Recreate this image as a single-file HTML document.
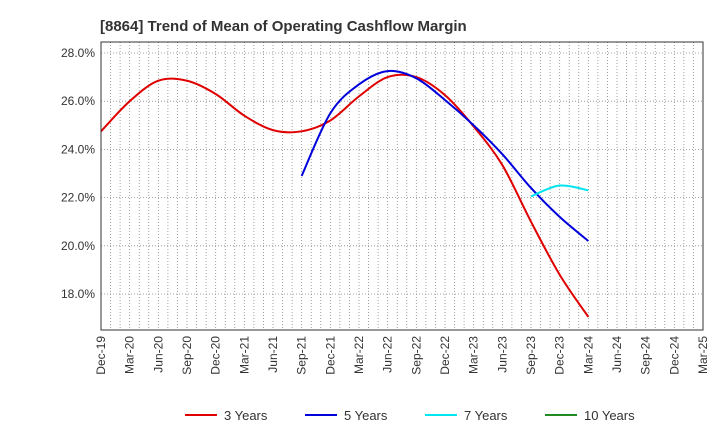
<!DOCTYPE html>
<html><head><meta charset="utf-8"><style>
body{margin:0;background:#fff;font-family:"Liberation Sans",sans-serif}
</style></head><body>
<svg id="c" width="720" height="440" xmlns="http://www.w3.org/2000/svg">
<text x="100" y="31" font-size="15" font-weight="bold" fill="#333">[8864]  Trend of Mean of Operating Cashflow Margin</text>
<g id="grid"></g><g id="series"></g><g id="axes"></g><g id="legend"></g>
</svg>
<script>
const xLabels=["Dec-19","Mar-20","Jun-20","Sep-20","Dec-20","Mar-21","Jun-21","Sep-21","Dec-21","Mar-22","Jun-22","Sep-22","Dec-22","Mar-23","Jun-23","Sep-23","Dec-23","Mar-24","Jun-24","Sep-24","Dec-24","Mar-25"];
const yTicks=[18,20,22,24,26,28];
const red=[24.75,26.0,26.85,26.85,26.3,25.4,24.8,24.75,25.2,26.2,27.0,27.0,26.25,24.95,23.35,21.0,18.8,17.05];
const blueStart=7;
const blue=[22.9,25.5,26.7,27.25,26.95,26.05,25.0,23.8,22.4,21.2,20.2];
const cyanStart=15;
const cyan=[22.05,22.5,22.3];
const green=[];
const L=101,R=703,T=42,B=330;
const NS="http://www.w3.org/2000/svg";
const qx=i=>L+(R-L)*i/(xLabels.length-1);
const Y=v=>53+(28-v)*(294-53)/10;
function mk(t,a,p){const e=document.createElementNS(NS,t);for(const k in a)e.setAttribute(k,a[k]);p.appendChild(e);return e;}
const grid=document.getElementById('grid'),axes=document.getElementById('axes'),ser=document.getElementById('series'),leg=document.getElementById('legend');
for(let m=1;m<63;m++){const x=L+(R-L)*m/63;
const g=mk('line',{x1:x,x2:x,y1:T,y2:B,stroke:'#888','stroke-width':0.8,'stroke-dasharray':'1,2'},grid);

}
yTicks.forEach(v=>{const y=Y(v);
const g=mk('line',{x1:L,x2:R,y1:y,y2:y,stroke:'#888','stroke-width':0.8,'stroke-dasharray':'1,2'},grid);


const t=mk('text',{x:L-6,y:y+4,'text-anchor':'end','font-size':12,fill:'#333'},axes);t.textContent=v.toFixed(1)+'%';

});
const fr=mk('rect',{x:L,y:T,width:R-L,height:B-T,fill:'none',stroke:'#333','stroke-width':1},axes);


xLabels.forEach((s,i)=>{const x=qx(i);
const t=mk('text',{x:x+4,y:B+6,'text-anchor':'end','font-size':12,fill:'#333',transform:`rotate(-90 ${x+4} ${B+6})`},axes);t.textContent=s;

});
function path(vals,start){const p=vals.map((v,i)=>[qx(start+i),Y(v)]);if(p.length<2)return'';
let d=`M${p[0][0]},${p[0][1]}`;
for(let i=0;i<p.length-1;i++){const p0=p[Math.max(0,i-1)],p1=p[i],p2=p[i+1],p3=p[Math.min(p.length-1,i+2)];
d+=` C${p1[0]+(p2[0]-p0[0])/6},${p1[1]+(p2[1]-p0[1])/6} ${p2[0]-(p3[0]-p1[0])/6},${p2[1]-(p3[1]-p1[1])/6} ${p2[0]},${p2[1]}`;}
return d;}
[[red,0,'#e00000','line-3-years'],[blue,blueStart,'#0000dd','line-5-years'],[cyan,cyanStart,'#00e5ee','line-7-years'],[green,0,'#228b22','line-10-years']].forEach(([v,s,c,n])=>{
if(v.length<2)return;const e=mk('path',{d:path(v,s),fill:'none',stroke:c,'stroke-width':2},ser);

});
[['3 Years','#e00000',185],['5 Years','#0000dd',305],['7 Years','#00e5ee',425],['10 Years','#228b22',545]].forEach(([t,c,x])=>{
const g=mk('g',{},leg);


mk('line',{x1:x,x2:x+32,y1:415,y2:415,stroke:c,'stroke-width':2},g);
const tx=mk('text',{x:x+39,y:420,'font-size':13,fill:'#333'},g);tx.textContent=t;});
</script>
</body></html>
